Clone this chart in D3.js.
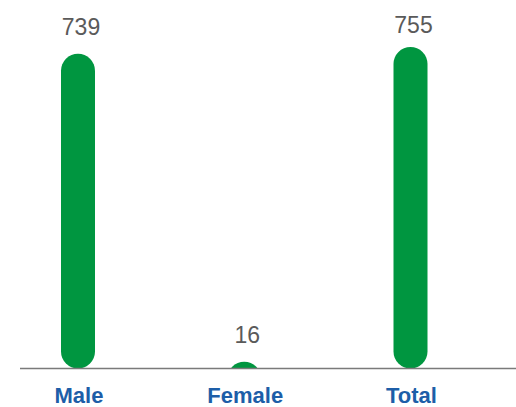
<!DOCTYPE html>
<html>
<head>
<meta charset="utf-8">
<script src="https://cdn.jsdelivr.net/npm/d3@7"></script>
<style>
  body { margin: 0; background: #fff; }
  svg { display: block; }
</style>
</head>
<body>
<script>
var categories = ["Male", "Female", "Total"];
var values = [739, 16, 755];

var width = 516, height = 407;
var baseline = 368.5;
var barWidth = 34;

var svg = d3.select("body").append("svg")
	.attr("width", width)
	.attr("height", height);

var x = d3.scalePoint()
	.domain(categories)
	.range([78, 410.5]);

var y = d3.scaleLinear()
	.domain([0, 755])
	.range([baseline, 47]);

// clip so short bars show only the rounded cap above the axis
svg.append("clipPath")
	.attr("id", "plot-clip")
	.append("rect")
	.attr("x", 0)
	.attr("y", 0)
	.attr("width", width)
	.attr("height", baseline);

svg.append("g")
	.attr("clip-path", "url(#plot-clip)")
	.selectAll("rect")
	.data(values)
	.enter()
	.append("rect")
	.attr("x", function(d, i) { return x(categories[i]) - barWidth / 2; })
	.attr("y", function(d) { return y(d); })
	.attr("width", barWidth)
	.attr("height", function(d) { return Math.max(baseline - y(d), barWidth); })
	.attr("rx", barWidth / 2)
	.attr("ry", barWidth / 2)
	.attr("fill", "#009640");

svg.append("line")
	.attr("x1", 20)
	.attr("x2", 516)
	.attr("y1", baseline)
	.attr("y2", baseline)
	.attr("stroke", "#7a7a7a")
	.attr("stroke-width", 1.5);

svg.selectAll("text.value")
	.data(values)
	.enter()
	.append("text")
	.attr("class", "value")
	.attr("x", function(d, i) { return x(categories[i]) + 3; })
	.attr("y", function(d) { return Math.max(33, y(d) - 19); })
	.attr("text-anchor", "middle")
	.attr("font-family", "'Liberation Sans', Arial, sans-serif")
	.attr("font-size", 23)
	.attr("fill", "#5a5a5a")
	.text(function(d) { return d; });

svg.selectAll("text.cat")
	.data(categories)
	.enter()
	.append("text")
	.attr("class", "cat")
	.attr("x", function(d) { return x(d) + 1; })
	.attr("y", 403)
	.attr("text-anchor", "middle")
	.attr("font-family", "'Liberation Sans', Arial, sans-serif")
	.attr("font-size", 22)
	.attr("font-weight", "bold")
	.attr("fill", "#1d5ea8")
	.text(function(d) { return d; });
</script>
</body>
</html>
